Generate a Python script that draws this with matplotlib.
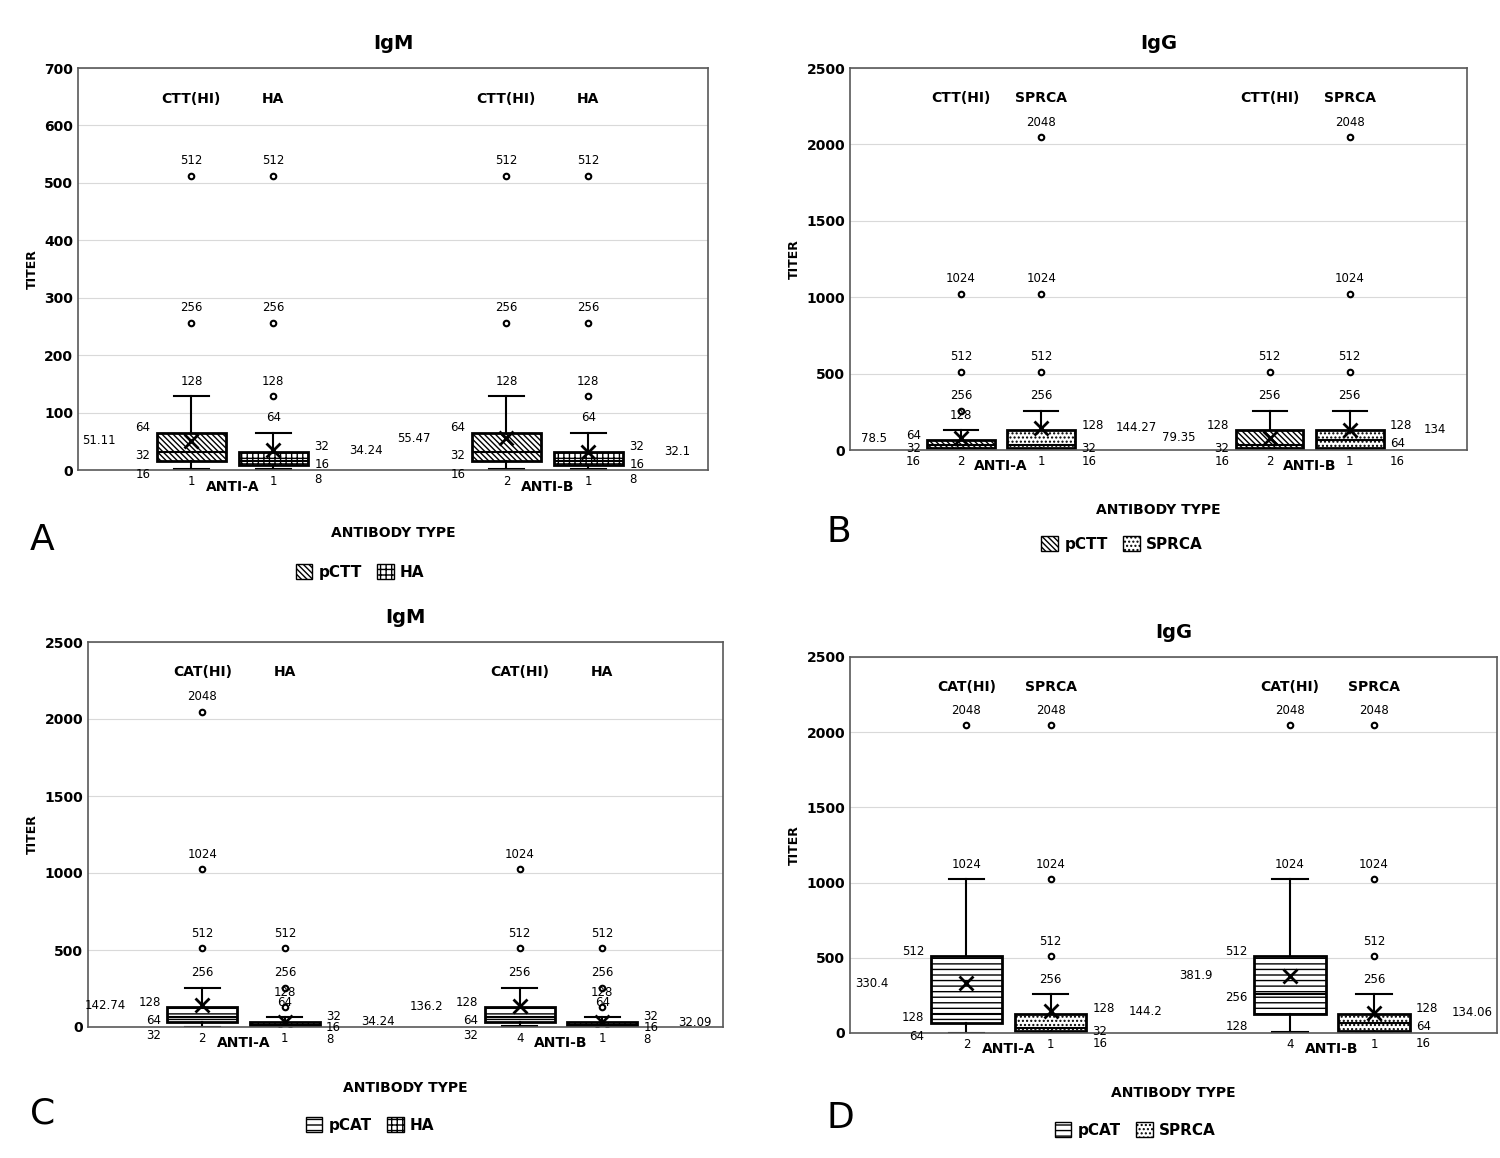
import matplotlib
matplotlib.use("Agg")
import matplotlib.pyplot as plt
from matplotlib.patches import Patch

# ---- data: (whislo, q1, med, q3, whishi, mean, fliers) ----
A_methods = ["CTT(HI)", "HA"]
A_stats = [(1, 16, 32, 64, 128, 51.11, [256, 512]),
           (1, 8, 16, 32, 64, 34.24, [128, 256, 512]),
           (2, 16, 32, 64, 128, 55.47, [256, 512]),
           (1, 8, 16, 32, 64, 32.1, [128, 256, 512])]
B_methods = ["CTT(HI)", "SPRCA"]
B_stats = [(2, 16, 32, 64, 128, 78.5, [256, 512, 1024]),
           (1, 16, 32, 128, 256, 144.27, [512, 1024, 2048]),
           (2, 16, 32, 128, 256, 79.35, [512]),
           (1, 16, 64, 128, 256, 134, [512, 1024, 2048])]
C_methods = ["CAT(HI)", "HA"]
C_stats = [(2, 32, 64, 128, 256, 142.74, [512, 1024, 2048]),
           (1, 8, 16, 32, 64, 34.24, [128, 256, 512]),
           (4, 32, 64, 128, 256, 136.2, [512, 1024]),
           (1, 8, 16, 32, 64, 32.09, [128, 256, 512])]
D_methods = ["CAT(HI)", "SPRCA"]
D_stats = [(2, 64, 128, 512, 1024, 330.4, [2048]),
           (1, 16, 32, 128, 256, 144.2, [512, 1024, 2048]),
           (4, 128, 256, 512, 1024, 381.9, [2048]),
           (1, 16, 64, 128, 256, 134.06, [512, 1024, 2048])]
groups = ["ANTI-A", "ANTI-B"]

fig = plt.figure(figsize=(15, 11.58), dpi=100)
W, H = 1500, 1158

def rect(x0, y0, x1, y1):
    return [x0 / W, 1 - y1 / H, (x1 - x0) / W, (y1 - y0) / H]

hatch = {"CTT": "\\\\\\\\\\\\", "HA": "+++", "SPRCA": "....", "CAT": "---"}

def panel(r, title, stats, methods, leg, hkeys, ymax, yticks, letter, lpos, legpos):
    ax = fig.add_axes(rect(*r))
    pos = [0.18, 0.31, 0.68, 0.81]
    bx = [dict(whislo=s[0], q1=s[1], med=s[2], q3=s[3], whishi=s[4],
               mean=s[5], fliers=s[6]) for s in stats]
    b = ax.bxp(bx, positions=pos, widths=0.11, showmeans=True, patch_artist=True,
               meanprops=dict(marker="x", markeredgecolor="black", markersize=10, markeredgewidth=2),
               flierprops=dict(marker="o", markerfacecolor="white", markeredgecolor="black",
                               markersize=4, markeredgewidth=1.5),
               medianprops=dict(color="black", linewidth=1.5),
               boxprops=dict(linewidth=2), whiskerprops=dict(linewidth=1.5),
               capprops=dict(linewidth=1.5))
    for i, p in enumerate(b["boxes"]):
        p.set_facecolor("white")
        p.set_hatch(hatch[hkeys[i % 2]])
    fs = 8.5
    dy = ymax * 0.022
    for i, s in enumerate(stats):
        x = pos[i]
        for f in s[6]:
            ax.text(x, f + dy, str(f), ha="center", va="bottom", fontsize=fs)
        ax.text(x, s[4] + dy, str(s[4]), ha="center", va="bottom", fontsize=fs)
        ax.text(x, -dy * 0.6, str(s[0]), ha="center", va="top", fontsize=fs)
        side = -1 if i % 2 == 0 else 1
        ha = "right" if side < 0 else "left"
        xo = x + side * 0.065
        ax.text(xo, s[3] + dy * 0.6, str(s[3]), ha=ha, va="center", fontsize=fs)
        ax.text(xo, s[2] - dy * 0.4, str(s[2]), ha=ha, va="center", fontsize=fs)
        ax.text(xo, s[1] - dy * 1.6, str(s[1]), ha=ha, va="center", fontsize=fs)
        ax.text(x + side * 0.12, s[5], str(s[5]), ha=ha, va="center", fontsize=fs)
    for g, gx in zip(groups, [0.245, 0.745]):
        ax.text(gx, -dy * 1.1, g, ha="center", va="top", fontsize=10, fontweight="bold")
    for i in range(4):
        ax.text(pos[i], ymax * 0.94, methods[i % 2], ha="center", va="top",
                fontsize=10, fontweight="bold")
    ax.set_xlim(0, 1)
    ax.set_ylim(0, ymax)
    ax.set_yticks(yticks)
    ax.set_xticks([])
    ax.tick_params(axis="y", labelsize=10, length=0)
    for t in ax.get_yticklabels():
        t.set_fontweight("bold")
    ax.grid(axis="y", color="#d9d9d9")
    ax.set_axisbelow(True)
    for sp in ax.spines.values():
        sp.set_color("#595959")
        sp.set_linewidth(1.2)
    ax.set_ylabel("TITER", fontsize=9, fontweight="bold")
    ax.set_title(title, fontsize=14, fontweight="bold", pad=14)
    ax.text(0.5, -0.14, "ANTIBODY TYPE", transform=ax.transAxes, ha="center",
            va="top", fontsize=10, fontweight="bold")
    handles = [Patch(facecolor="white", edgecolor="black", hatch=hatch[k], label=l)
               for k, l in zip(hkeys, leg)]
    fig.legend(handles=handles, loc="center", bbox_to_anchor=(legpos[0] / W, 1 - legpos[1] / H),
               ncol=2, frameon=False, prop=dict(weight="bold", size=11),
               handlelength=1.1, handleheight=1.1, columnspacing=1.0, handletextpad=0.4)
    fig.text(lpos[0] / W, 1 - lpos[1] / H, letter, fontsize=26, ha="left", va="center")

panel((78, 68, 708, 470), "IgM", A_stats, A_methods, ["pCTT", "HA"], ["CTT", "HA"],
      700, range(0, 701, 100), "A", (30, 540), (360, 572))
panel((850, 68, 1467, 450), "IgG", B_stats, B_methods, ["pCTT", "SPRCA"], ["CTT", "SPRCA"],
      2500, range(0, 2501, 500), "B", (826, 532), (1122, 544))
panel((88, 642, 723, 1027), "IgM", C_stats, C_methods, ["pCAT", "HA"], ["CAT", "HA"],
      2500, range(0, 2501, 500), "C", (30, 1113), (370, 1125))
panel((850, 657, 1497, 1033), "IgG", D_stats, D_methods, ["pCAT", "SPRCA"], ["CAT", "SPRCA"],
      2500, range(0, 2501, 500), "D", (826, 1118), (1135, 1130))

fig.savefig("out.png", dpi=100, facecolor="white")
